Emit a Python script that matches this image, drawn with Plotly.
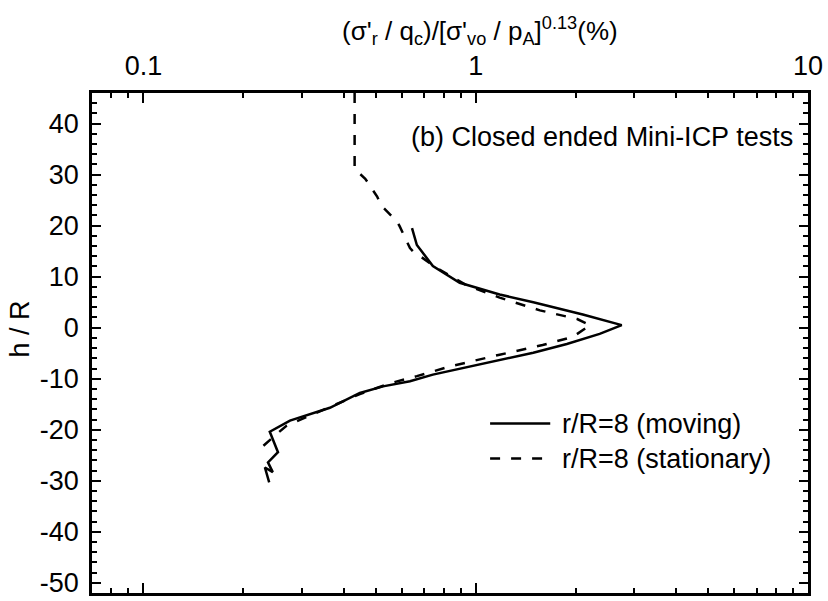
import math
import plotly.graph_objects as go

# ---- data ----
moving_h = [19.5, 16.2, 12.1, 8.8, 6.5, 5.0, 2.6, 0.5, -1.2, -3.2, -4.9, -7.0, -9.2,
            -10.5, -11.5, -12.8, -13.8, -15.7, -18.2, -20.4, -24.4, -26.4, -28.3, -27.4, -30.3]
moving_x = [0.643, 0.665, 0.743, 0.895, 1.18, 1.49, 2.10, 2.75, 2.36, 1.88, 1.49, 1.05, 0.743,
            0.634, 0.526, 0.448, 0.418, 0.364, 0.276, 0.240, 0.254, 0.237, 0.245, 0.232, 0.239]

stat_h = [46, 31, 30.1, 29.2, 25.7, 23.9, 20.8, 19.9, 15.6, 15.0, 11.7, 8.3, 5.9, 3.4, 1.7, 0.5,
          -1.8, -3.4, -5.3, -7.6, -9.5, -10.9, -13.0, -15.0, -19.2, -20.8, -24.1]
stat_x = [0.432, 0.432, 0.449, 0.465, 0.505, 0.52, 0.58, 0.59, 0.634, 0.647, 0.764, 0.94, 1.18,
          1.56, 2.02, 2.21, 1.96, 1.59, 1.18, 0.836, 0.665, 0.552, 0.448, 0.382, 0.27, 0.252, 0.221]

series_names = ["r/R=8 (moving)", "r/R=8 (stationary)"]

x_major = [0.1, 1, 10]
x_major_text = ["0.1", "1", "10"]
x_minor = [0.08, 0.09] + [k / 10 for k in range(2, 10)] + list(range(2, 10))
y_major = list(range(-50, 41, 10))
y_major_text = [str(v) for v in y_major]  # plain hyphen-minus as in the reference
y_minor = [v for v in range(-50, 46, 2) if v % 10 != 0]

x_title = "(σ'<sub>r</sub> / q<sub>c</sub>)/[σ'<sub>vo</sub> / p<sub>A</sub>]<sup>0.13</sup>(%)"
y_title = "h / R"
note = "(b) Closed ended Mini-ICP tests"

FONT = "Liberation Sans, Arial, sans-serif"
FS = 27
xr = [math.log10(0.07), 1]
yr = [-52, 46]

fig = go.Figure()
fig.add_trace(go.Scatter(x=moving_x, y=moving_h, mode="lines", name=series_names[0],
                         line=dict(color="black", width=2.5), showlegend=False))
fig.add_trace(go.Scatter(x=stat_x, y=stat_h, mode="lines", name=series_names[1],
                         line=dict(color="black", width=2.5, dash="10px,11px"), showlegend=False))
# dummy trace to anchor minor-tick axes
fig.add_trace(go.Scatter(x=[1], y=[0], xaxis="x2", yaxis="y2", mode="markers",
                         marker=dict(opacity=0), showlegend=False, hoverinfo="skip"))

fig.update_layout(
    width=828, height=601,
    margin=dict(l=92, r=20, t=93, b=3),
    paper_bgcolor="white", plot_bgcolor="white",
    font=dict(family=FONT, size=FS, color="black"),
    xaxis=dict(type="log", range=xr, side="top", tickvals=x_major, ticktext=x_major_text,
               ticks="inside", ticklen=10, tickwidth=2, tickcolor="black",
               showline=True, linewidth=2.5, linecolor="black", mirror="allticks",
               showgrid=False, zeroline=False, tickfont=dict(size=FS), ticklabelstandoff=4),
    yaxis=dict(range=yr, tickvals=y_major, ticktext=y_major_text, ticks="inside", ticklen=9,
               tickwidth=2, tickcolor="black", showline=True, linewidth=2.5, linecolor="black",
               mirror="allticks", showgrid=False, zeroline=False, tickfont=dict(size=FS),
               ticklabelstandoff=5),
    xaxis2=dict(type="log", range=xr, overlaying="x", side="top", tickvals=x_minor,
                ticks="inside", ticklen=5, tickwidth=2, tickcolor="black", mirror="allticks",
                showline=False, showgrid=False, zeroline=False, showticklabels=False),
    yaxis2=dict(range=yr, overlaying="y", side="left", tickvals=y_minor, ticks="inside",
                ticklen=5, tickwidth=2, tickcolor="black", mirror="allticks",
                showline=False, showgrid=False, zeroline=False, showticklabels=False),
    showlegend=False,
)

fig.add_annotation(text=x_title, xref="paper", yref="paper", x=0.542, y=1.125,
                   showarrow=False, xanchor="center", yanchor="middle", font=dict(size=26))
fig.add_annotation(text=y_title, xref="paper", yref="paper", x=-0.1006, y=0.529,
                   showarrow=False, textangle=-90, xanchor="center", yanchor="middle",
                   font=dict(size=FS))
fig.add_annotation(text=note, xref="paper", yref="paper", x=0.982, y=0.913,
                   showarrow=False, xanchor="right", yanchor="middle", font=dict(size=FS))

# legend (manual, to match long sample lines)
leg_y = [0.339, 0.269]
leg_dash = ["solid", "10px,11px"]
for name, yy, dsh in zip(series_names, leg_y, leg_dash):
    fig.add_shape(type="line", xref="paper", yref="paper", x0=0.556, x1=0.640, y0=yy, y1=yy,
                  line=dict(color="black", width=2.5, dash=dsh))
    fig.add_annotation(text=name, xref="paper", yref="paper", x=0.654, y=yy,
                       showarrow=False, xanchor="left", yanchor="middle", font=dict(size=FS))

fig.write_html("out.html")
